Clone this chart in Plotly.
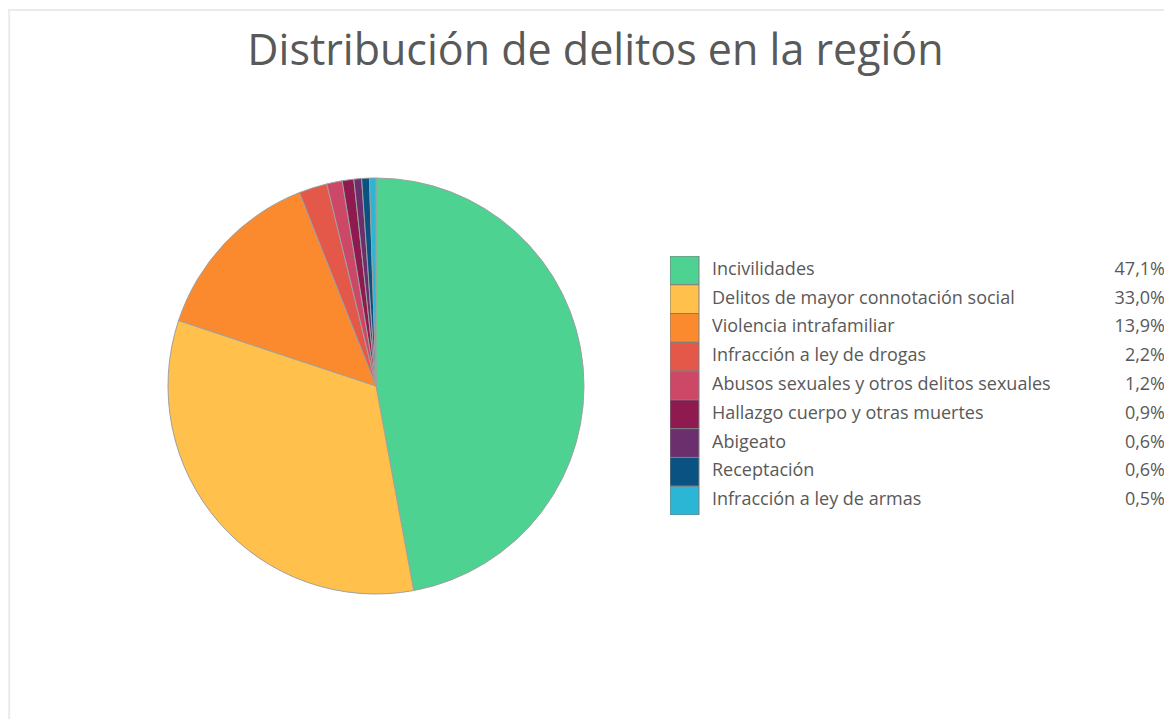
import plotly.graph_objects as go

categorias = [
    "Incivilidades",
    "Delitos de mayor connotación social",
    "Violencia intrafamiliar",
    "Infracción a ley de drogas",
    "Abusos sexuales y otros delitos sexuales",
    "Hallazgo cuerpo y otras muertes",
    "Abigeato",
    "Receptación",
    "Infracción a ley de armas",
]
porcentajes = [47.1, 33.0, 13.9, 2.2, 1.2, 0.9, 0.6, 0.6, 0.5]
colores = ["#4dd291", "#ffc04c", "#fb8a2e", "#e4584a", "#cd4767",
           "#8e1a50", "#6c2f6e", "#0a5282", "#2bb6d6"]

# la pagina tiene 8px de margen, asi que la figura es un poco menor
W, H = 1164, 711
OFF = 8
gris = "#595959"
fuente = "Open Sans"


def px_x(p):
    # p en pixeles de pantalla
    return (p - OFF) / W


def px_y(p):
    return 1 - (p - OFF) / H


fig = go.Figure()

fig.add_trace(go.Pie(
    labels=categorias,
    values=porcentajes,
    marker=dict(colors=colores, line=dict(color="#a0a0a0", width=1)),
    sort=False,
    direction="clockwise",
    rotation=0,
    textinfo="none",
    hoverinfo="label+percent",
    showlegend=False,
    domain=dict(x=[px_x(168), px_x(584)], y=[px_y(594), px_y(178)]),
))

# leyenda tipo tabla: cuadros de color + nombres + porcentajes
fig.add_trace(go.Bar(
    y=categorias,
    x=[29] * len(categorias),
    orientation="h",
    width=1,
    marker=dict(color=colores, line=dict(color="#7f7f7f", width=1)),
    hoverinfo="skip",
    showlegend=False,
    xaxis="x", yaxis="y",
))
fig.add_trace(go.Scatter(
    y=categorias,
    x=[42] * len(categorias),
    mode="text",
    text=categorias,
    textposition="middle right",
    textfont=dict(family=fuente, size=18, color=gris),
    hoverinfo="skip",
    showlegend=False,
))
fig.add_trace(go.Scatter(
    y=categorias,
    x=[495] * len(categorias),
    mode="text",
    text=[f"{v:.1f}%".replace(".", ",") for v in porcentajes],
    textposition="middle left",
    textfont=dict(family=fuente, size=18, color=gris),
    hoverinfo="skip",
    showlegend=False,
))

fig.update_layout(
    width=W, height=H,
    margin=dict(l=0, r=0, t=0, b=0),
    paper_bgcolor="white",
    plot_bgcolor="rgba(0,0,0,0)",
    title=dict(
        text="Distribución de delitos en la región",
        x=px_x(595.5), xanchor="center",
        y=px_y(50), yanchor="middle",
        font=dict(family=fuente, size=43, color=gris),
    ),
    xaxis=dict(domain=[px_x(670), px_x(1170)], range=[0, 500],
               visible=False, fixedrange=True),
    yaxis=dict(domain=[px_y(515), px_y(256)], range=[8.5, -0.5],
               visible=False, fixedrange=True, type="category"),
    # marco del area del grafico: solo borde izquierdo y superior visibles
    shapes=[
        dict(type="line", xref="paper", yref="paper",
             x0=0.001, x1=0.001, y0=0, y1=px_y(10),
             line=dict(color="#ebebeb", width=2)),
        dict(type="line", xref="paper", yref="paper",
             x0=0, x1=1, y0=px_y(10), y1=px_y(10),
             line=dict(color="#ebebeb", width=2)),
    ],
)

fig.write_html("out.html")
